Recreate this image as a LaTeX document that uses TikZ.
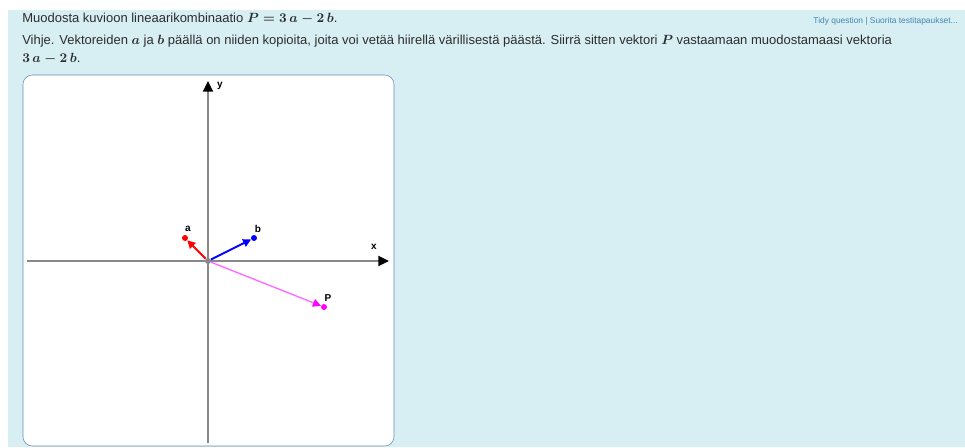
\documentclass[tikz,border=0pt]{standalone}
\usepackage{amsmath}
\usepackage{fontspec}
\setmainfont{Liberation Sans}
\usetikzlibrary{arrows.meta}

\definecolor{panel}{RGB}{215,238,242}
\definecolor{frame}{RGB}{105,138,182}
\definecolor{axisgray}{RGB}{136,136,136}
\definecolor{linkblue}{RGB}{70,132,178}
\definecolor{qtext}{RGB}{45,45,45}
\definecolor{pmag}{RGB}{255,0,255}
\definecolor{pline}{RGB}{255,105,255}

\begin{document}
\begin{tikzpicture}[x=0.75pt, y=-0.75pt,
  axis/.style={axisgray, line width=1.5pt, -{Triangle[length=8pt,width=7.5pt,black]}},
  vec/.style={line width=1.4pt, -{Triangle[length=6pt,width=6pt]}},
  tip/.style={circle, fill, inner sep=0pt, minimum size=4.5pt},
  lbl/.style={font=\bfseries\fontsize{7.5}{8}\selectfont, text=black, inner sep=1pt},
  qline/.style={anchor=west, inner sep=0pt, text=qtext, font=\fontsize{9.75}{11}\selectfont}]
  \useasboundingbox (0,0) rectangle (965,447);
  % tausta ja kuvan kehys
  \fill[panel] (8,10) rectangle (965,447);
  \draw[frame, fill=white, rounded corners=7pt] (23,75) rectangle (394,446);

  % tehtävän teksti
  \node[qline] (q1) at (22,19) {Muodosta kuvioon lineaarikombinaatio $\boldsymbol{P=3\,a-2\,b}$.};
  \node[qline] (q2) at (22,41) {Vihje. Vektoreiden $\boldsymbol{a}$ ja $\boldsymbol{b}$ päällä on niiden kopioita, joita voi vetää hiirellä värillisestä päästä. Siirrä sitten vektori $\boldsymbol{P}$ vastaamaan muodostamaasi vektoria};
  \node[qline] (q3) at (22,59) {$\boldsymbol{3\,a-2\,b}$.};
  \node[anchor=east, inner sep=0pt, text=linkblue, font=\fontsize{6.3}{7}\selectfont] (links) at (958,21) {Tidy question | Suorita testitapaukset...};

  % koordinaattiakselit
  \coordinate (xl) at (27,261);
  \coordinate (xr) at (389,261);
  \coordinate (yb) at (208,443);
  \coordinate (yt) at (208,81);
  \draw[axis] (xl) -- (xr);
  \draw[axis] (yb) -- (yt);
  \node[lbl] (xlab) at (374,247) {x};
  \node[lbl] (ylab) at (220,86) {y};

  % vektorit, yksikkö 23 px
  \node[tip, axisgray] (O) at (208,261) {};
  \node[tip, red] (A) at (185,238) {};
  \node[tip, blue] (B) at (254,238) {};
  \node[tip, pmag] (P) at (324,307) {};
  \draw[vec, red] (O) -- (A);
  \draw[vec, blue] (O) -- (B);
  \draw[vec, pline, line width=1pt, -{Triangle[length=6pt,width=6pt,pmag]}] (O) -- (P);
  \node[lbl] (alab) at (188,229) {a};
  \node[lbl] (blab) at (258,229) {b};
  \node[lbl] (plab) at (328,298) {P};
\end{tikzpicture}
\end{document}
